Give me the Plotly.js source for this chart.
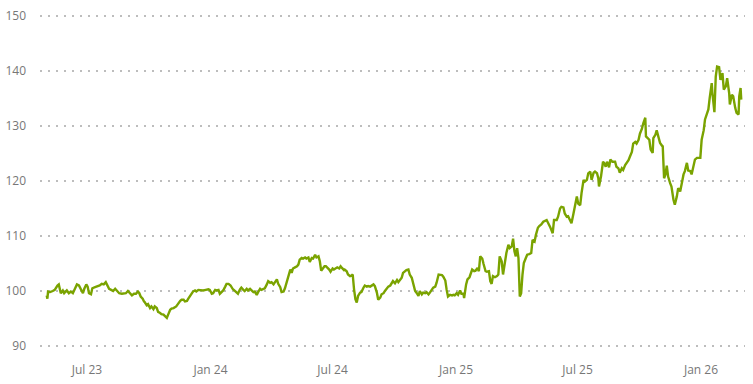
<!DOCTYPE html>
<html>
<head>
<meta charset="utf-8">
<script src="https://cdn.plot.ly/plotly-3.0.1.min.js"></script>
<style>html,body{margin:0;padding:0;background:#fff;}#chart{width:753px;height:384px;}</style>
</head>
<body>
<div id="chart"></div>
<script>
const dates = [
"2023-05-02","2023-05-03","2023-05-04","2023-05-07","2023-05-11","2023-05-14","2023-05-18","2023-05-20","2023-05-23","2023-05-26",
"2023-05-28","2023-06-01","2023-06-04","2023-06-07","2023-06-10","2023-06-13","2023-06-16","2023-06-19","2023-06-22","2023-06-25",
"2023-06-27","2023-06-30","2023-07-02","2023-07-04","2023-07-07","2023-07-09","2023-07-13","2023-07-16","2023-07-20","2023-07-23",
"2023-07-26","2023-07-29","2023-07-31","2023-08-03","2023-08-06","2023-08-09","2023-08-12","2023-08-15","2023-08-18","2023-08-22",
"2023-08-25","2023-08-28","2023-08-31","2023-09-03","2023-09-06","2023-09-09","2023-09-12","2023-09-15","2023-09-17","2023-09-19",
"2023-09-22","2023-09-24","2023-09-25","2023-09-28","2023-09-30","2023-10-03","2023-10-05","2023-10-08","2023-10-10","2023-10-13",
"2023-10-15","2023-10-18","2023-10-20","2023-10-23","2023-10-25","2023-10-28","2023-10-30","2023-11-02","2023-11-04","2023-11-07",
"2023-11-11","2023-11-14","2023-11-17","2023-11-19","2023-11-22","2023-11-24","2023-11-27","2023-11-29","2023-12-02","2023-12-04",
"2023-12-06","2023-12-09","2023-12-11","2023-12-14","2023-12-17","2023-12-21","2023-12-25","2023-12-29","2023-12-31","2024-01-03",
"2024-01-05","2024-01-08","2024-01-10","2024-01-13","2024-01-15","2024-01-18","2024-01-20","2024-01-23","2024-01-25","2024-01-28",
"2024-01-31","2024-02-03","2024-02-06","2024-02-09","2024-02-11","2024-02-14","2024-02-16","2024-02-19","2024-02-21","2024-02-24",
"2024-02-26","2024-02-29","2024-03-02","2024-03-05","2024-03-07","2024-03-10","2024-03-12","2024-03-15","2024-03-17","2024-03-20",
"2024-03-22","2024-03-25","2024-03-27","2024-03-30","2024-04-01","2024-04-04","2024-04-06","2024-04-09","2024-04-11","2024-04-14",
"2024-04-16","2024-04-19","2024-04-21","2024-04-24","2024-04-26","2024-04-29","2024-05-01","2024-05-03","2024-05-06","2024-05-09",
"2024-05-11","2024-05-13","2024-05-16","2024-05-18","2024-05-21","2024-05-23","2024-05-26","2024-05-28","2024-05-31","2024-06-02",
"2024-06-05","2024-06-07","2024-06-10","2024-06-12","2024-06-14","2024-06-16","2024-06-19","2024-06-21","2024-06-24","2024-06-26",
"2024-06-28","2024-07-01","2024-07-03","2024-07-06","2024-07-08","2024-07-11","2024-07-13","2024-07-15","2024-07-18","2024-07-19",
"2024-07-22","2024-07-24","2024-07-27","2024-07-29","2024-07-31","2024-08-02","2024-08-04","2024-08-06","2024-08-08","2024-08-11",
"2024-08-13","2024-08-16","2024-08-18","2024-08-21","2024-08-23","2024-08-26","2024-08-28","2024-08-31","2024-09-02","2024-09-05",
"2024-09-07","2024-09-10","2024-09-12","2024-09-15","2024-09-17","2024-09-20","2024-09-22","2024-09-25","2024-09-27","2024-09-29",
"2024-10-02","2024-10-05","2024-10-07","2024-10-09","2024-10-12","2024-10-14","2024-10-17","2024-10-19","2024-10-22","2024-10-24",
"2024-10-27","2024-10-29","2024-11-01","2024-11-03","2024-11-06","2024-11-08","2024-11-11","2024-11-13","2024-11-16","2024-11-18",
"2024-11-21","2024-11-23","2024-11-26","2024-11-28","2024-12-01","2024-12-03","2024-12-06","2024-12-08","2024-12-11","2024-12-13",
"2024-12-16","2024-12-18","2024-12-20","2024-12-23","2024-12-26","2024-12-28","2024-12-30","2025-01-02","2025-01-04","2025-01-07",
"2025-01-09","2025-01-12","2025-01-13","2025-01-16","2025-01-18","2025-01-21","2025-01-23","2025-01-25","2025-01-28","2025-01-30",
"2025-02-02","2025-02-04","2025-02-06","2025-02-09","2025-02-11","2025-02-14","2025-02-16","2025-02-19","2025-02-21","2025-02-23",
"2025-02-25","2025-02-28","2025-03-03","2025-03-05","2025-03-07","2025-03-10","2025-03-12","2025-03-15","2025-03-17","2025-03-20",
"2025-03-22","2025-03-25","2025-03-27","2025-03-29","2025-03-31","2025-04-02","2025-04-04","2025-04-06","2025-04-08","2025-04-10",
"2025-04-12","2025-04-15","2025-04-17","2025-04-20","2025-04-23","2025-04-25","2025-04-28","2025-04-30","2025-05-03","2025-05-05",
"2025-05-08","2025-05-11","2025-05-16","2025-05-21","2025-05-25","2025-05-27","2025-05-31","2025-06-02","2025-06-05","2025-06-07",
"2025-06-10","2025-06-12","2025-06-15","2025-06-17","2025-06-20","2025-06-22","2025-06-25","2025-06-27","2025-06-30","2025-07-02",
"2025-07-05","2025-07-07","2025-07-10","2025-07-12","2025-07-15","2025-07-17","2025-07-20","2025-07-22","2025-07-25","2025-07-27",
"2025-07-30","2025-08-01","2025-08-02","2025-08-05","2025-08-08","2025-08-10","2025-08-12","2025-08-14","2025-08-17","2025-08-19",
"2025-08-22","2025-08-26","2025-08-28","2025-08-31","2025-09-02","2025-09-05","2025-09-07","2025-09-10","2025-09-12","2025-09-15",
"2025-09-17","2025-09-20","2025-09-22","2025-09-25","2025-09-27","2025-09-30","2025-10-02","2025-10-05","2025-10-07","2025-10-10",
"2025-10-11","2025-10-13","2025-10-16","2025-10-18","2025-10-21","2025-10-22","2025-10-25","2025-10-27","2025-10-29","2025-11-01",
"2025-11-04","2025-11-05","2025-11-07","2025-11-09","2025-11-11","2025-11-13","2025-11-16","2025-11-18","2025-11-21","2025-11-23",
"2025-11-26","2025-11-28","2025-12-01","2025-12-03","2025-12-06","2025-12-08","2025-12-11","2025-12-13","2025-12-16","2025-12-18",
"2025-12-21","2025-12-23","2025-12-26","2025-12-28","2025-12-31","2026-01-02","2026-01-05","2026-01-07","2026-01-10","2026-01-12",
"2026-01-14","2026-01-17","2026-01-18","2026-01-21","2026-01-23","2026-01-25","2026-01-28","2026-01-30","2026-02-02","2026-02-04",
"2026-02-07","2026-02-09","2026-02-12","2026-02-13","2026-02-16","2026-02-18","2026-02-21","2026-02-23","2026-02-26","2026-02-27",
"2026-03-01","2026-03-02"
];
const values = [
99.2,98.6,99.9,99.8,100,100.2,101,101.2,99.6,100.1,
99.6,100.1,99.6,99.9,99.6,100.5,101.2,101,100.2,99.6,
100.4,101.2,100.8,99.6,99.4,100.5,100.7,100.8,101,101.3,
101.2,101.6,101.2,100.4,100.2,100,100.4,100,99.6,99.5,
99.5,99.6,100,99.6,99.2,99.5,99.5,99.9,99.6,99.0,
98.6,98.1,98.0,97.4,97.6,96.9,97.2,96.7,97.2,96.9,
96.2,96.0,95.8,95.7,95.4,95.1,95.7,96.6,96.8,96.9,
97.2,97.8,98.2,98.4,98.4,98.1,98.2,98.6,99.2,99.6,
99.9,100.1,99.9,100.2,100.1,100.1,100.2,100.3,100.2,99.5,
99.6,100.2,100.1,100.2,99.5,99.9,100.1,100.8,101.3,101.3,
101,100.4,100.1,99.8,99.5,100.3,100.6,100.2,100,100.4,
100.1,100.4,100.2,99.8,99.9,99.3,99.8,100.4,100.2,100.4,
100.5,101.2,101.8,101.5,101.6,101.2,101.6,102.1,101.3,100.7,
99.8,99.9,100.5,101.8,102.8,103.9,103.3,104.1,104.3,104.5,
104.8,105.7,106.0,105.9,106.1,105.9,106.1,105.3,106,105.9,
106.6,106.1,106.3,105.4,103.7,104.1,104.5,104.5,104.2,103.9,
103.5,104.1,103.9,104.2,104.3,104.1,104.5,104.2,103.8,103.9,
103.6,103.0,102.7,102.8,103.0,100.3,98.5,97.9,99.1,99.7,
99.8,100.6,101.0,100.8,100.9,100.8,101.0,101.2,100.9,99.7,
98.4,98.8,99.4,99.6,100,100.6,100.8,101,101.5,101.8,
101.4,102,101.6,102,102.4,103.3,103.6,103.8,103.9,103.0,
102.4,101.2,100,99.7,99.1,100,99.4,99.7,99.6,99.8,
99.4,99.7,100.3,100.6,100.8,101.5,103,103,102.9,102.6,
101.9,100.2,99.0,99.3,99.2,99.3,99.2,99.6,99.3,100.1,
99.5,99.5,98.7,101.2,102.1,102.5,103.1,103.9,103.6,103.7,
104.2,103.6,106.3,105.9,104.9,103.6,103.5,103.6,101.8,101.3,
102.7,102.5,102.7,103,106.3,105.4,103,106,106.9,108.4,
107.8,108.1,109.5,107.2,106.3,107.8,106,99.0,99.6,103,
105.1,106,106.6,106.7,106.9,109.3,109,110.2,111.5,111.8,
112.1,112.6,112.9,111.7,110.5,112.9,112.9,113.5,115,115.3,
115.2,114.1,113.5,113.6,112.6,112.3,114.1,115.6,117.2,115.9,
115.6,117.8,120.2,119.9,120.2,121.4,121.7,120.2,121.5,121.7,
121.4,120.5,119,120.8,123.5,123.2,122.6,123.5,122.5,123.9,
123.5,123.5,122.6,122.3,121.5,122.3,122,122.9,123.2,123.8,
124.4,125.3,126.8,127.1,126.8,127.5,128.6,129.5,130.5,131.5,
128.1,127.8,127.5,125.7,125.1,127.8,128.4,129.2,128.4,126.9,
126.4,126.3,120.5,121.2,122.8,120.8,119.6,119,116.6,115.7,
117.2,118.7,118.1,119.6,121.2,121.8,123.3,121.9,121.8,121.2,
122.7,123.9,124.2,124.2,124.2,127.5,129.2,131.2,132.4,133,
135.1,137.8,136,132.5,139,140.8,140.7,138.4,139.6,136.6,
137.2,138.7,136,133.9,135.7,135.4,133.3,132.4,132.1,135.4,
136.9,134.8
];
const xTickVals = ["2023-07-01","2024-01-01","2024-07-01","2025-01-01","2025-07-01","2026-01-01"];
const xTickText = ["Jul 23","Jan 24","Jul 24","Jan 25","Jul 25","Jan 26"];
const yTickVals = [90,100,110,120,130,140,150];

const trace = {
  x: dates, y: values, type: 'scatter', mode: 'lines',
  line: {color: '#7aa300', width: 2.4, shape: 'linear'},
  hoverinfo: 'skip'
};
const layout = {
  width: 753, height: 384,
  margin: {l: 40, r: 8, t: 5, b: 27},
  paper_bgcolor: '#ffffff', plot_bgcolor: '#ffffff',
  showlegend: false,
  font: {family: 'Open Sans, Noto Sans, sans-serif', size: 12, color: '#666'},
  xaxis: {
    type: 'date',
    range: ['2023-04-22', '2026-03-07 14:00'],
    tickvals: xTickVals, ticktext: xTickText,
    showgrid: false, zeroline: false, showline: false, ticks: '',
    tickfont: {size: 12, color: '#777'},
    ticklabelstandoff: 4
  },
  yaxis: {
    range: [88, 152],
    tickvals: yTickVals,
    showgrid: true, gridcolor: '#bdbdbd', gridwidth: 2, griddash: '2px,6px',
    zeroline: false, showline: false, ticks: '',
    tickfont: {size: 12, color: '#777'},
    ticklabelstandoff: 13
  }
};
Plotly.newPlot('chart', [trace], layout, {staticPlot: true, displayModeBar: false});
</script>
</body>
</html>
